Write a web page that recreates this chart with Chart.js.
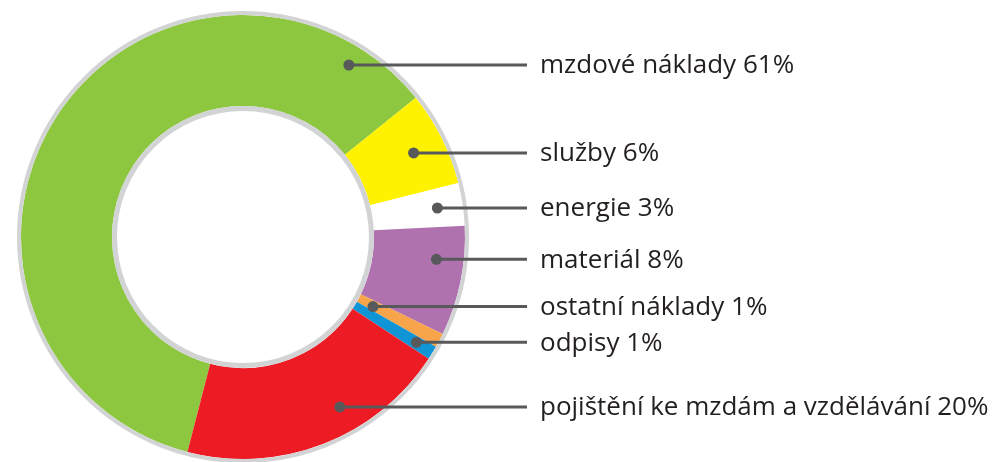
<!DOCTYPE html>
<html>
<head>
<meta charset="utf-8">
<script src="https://cdn.jsdelivr.net/npm/chart.js@4"></script>
<style>
  html, body { margin: 0; padding: 0; background: #fff; }
  #wrap { width: 1000px; height: 462px; position: relative; }
</style>
</head>
<body>
<div id="wrap"><canvas id="costChart"></canvas></div>
<script>
// --- DATA ---
const categories = ['mzdové náklady', 'služby', 'energie', 'materiál', 'ostatní náklady', 'odpisy', 'pojištění ke mzdám a vzdělávání'];
const shares = [60.2, 6.9, 3.1, 8.0, 1.05, 1.0, 19.8];
const shareLabels = ['61%', '6%', '3%', '8%', '1%', '1%', '20%'];
const sliceColors = ['#8dc63f', '#fff200', '#ffffff', '#b072ae', '#f7a44a', '#0f95d6', '#ed1c24'];

// where each leader dot sits: fraction along the slice, fraction across the ring
const leaderAlong = [0.91, 0.51, 0.5, 0.33, 0.6, 0.45, 0.38];
const leaderAcross = [0.78, 0.65, 0.72, 0.70, 0.18, 0.79, 0.71];

const ringPlugin = {
    id: 'ringAndCallouts',
    afterDatasetsDraw(chart) {
        const ctx = chart.ctx;
        const arcs = chart.getDatasetMeta(0).data;
        const cx = arcs[0].x, cy = arcs[0].y;
        const outer = arcs[0].outerRadius, inner = arcs[0].innerRadius;

        // grey rims
        ctx.save();
        ctx.strokeStyle = '#d1d3d4';
        ctx.lineWidth = 4;
        ctx.beginPath();
        ctx.arc(cx, cy, outer + 2, 0, Math.PI * 2);
        ctx.stroke();
        ctx.lineWidth = 5;
        ctx.beginPath();
        ctx.arc(cx, cy, inner - 2.5, 0, Math.PI * 2);
        ctx.stroke();

        // leader lines + labels
        const lineEnd = 527;
        arcs.forEach((arc, i) => {
            const a = arc.startAngle + (arc.endAngle - arc.startAngle) * leaderAlong[i];
            const r = inner + (outer - inner) * leaderAcross[i];
            const x = cx + Math.cos(a) * r;
            const y = cy + Math.sin(a) * r;
            ctx.strokeStyle = '#58595b';
            ctx.fillStyle = '#58595b';
            ctx.lineWidth = 3;
            ctx.beginPath();
            ctx.moveTo(x, y);
            ctx.lineTo(lineEnd, y);
            ctx.stroke();
            ctx.beginPath();
            ctx.arc(x, y, 5.5, 0, Math.PI * 2);
            ctx.fill();

            ctx.fillStyle = '#231f20';
            ctx.font = '26px "Open Sans"';
            ctx.textBaseline = 'middle';
            ctx.textAlign = 'left';
            ctx.fillText(categories[i] + ' ' + shareLabels[i], 540, y + 1);
        });
        ctx.restore();
    }
};

new Chart(document.getElementById('costChart'), {
    type: 'doughnut',
    data: {
        labels: categories,
        datasets: [{
            data: shares,
            backgroundColor: sliceColors,
            borderWidth: 0
        }]
    },
    options: {
        responsive: true,
        maintainAspectRatio: false,
        animation: false,
        rotation: 194.5,
        cutout: 131,
        layout: { padding: { left: 21, top: 15, right: 535, bottom: 3 } },
        plugins: {
            legend: { display: false },
            tooltip: { enabled: false }
        }
    },
    plugins: [ringPlugin]
});
</script>
</body>
</html>
